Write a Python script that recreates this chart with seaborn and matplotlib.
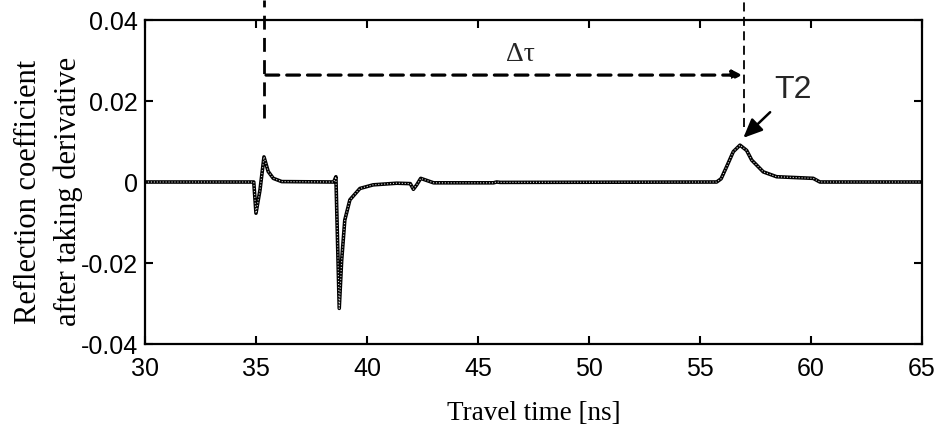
import numpy as np
import pandas as pd
import matplotlib
matplotlib.use("Agg")
import matplotlib.pyplot as plt
import seaborn as sns

# valores (tiempo en ns, coeficiente de reflexion derivado)
tiempo = [30, 34.9, 35.0, 35.18, 35.36, 35.55, 35.78, 36.16, 38.5, 38.6, 38.75,
          38.86, 39.0, 39.23, 39.68, 40.28, 41.34, 41.95, 42.09, 42.24, 42.42,
          43.0, 45.7, 45.84, 46.0, 55.75, 55.95, 56.2, 56.5, 56.8, 57.1, 57.33,
          57.85, 58.45, 60.1, 60.4, 65]
reflexion = [0, 0, -0.0077, -0.002, 0.0062, 0.0026, 0.0009, 0.0001, 0, 0.0013,
             -0.0312, -0.0193, -0.0094, -0.0044, -0.0016, -0.0007, -0.0003,
             -0.0004, -0.0018, -0.0007, 0.0009, -0.0002, -0.0002, 0.0, -0.0001,
             0, 0.0008, 0.0038, 0.0075, 0.0091, 0.0078, 0.0054, 0.0025, 0.0013,
             0.0009, 0, 0]

xticks = [30, 35, 40, 45, 50, 55, 60, 65]
yticks = [-0.04, -0.02, 0, 0.02, 0.04]
ytick_labels = ["-0.04", "-0.02", "0", "0.02", "0.04"]

# marcas T1 / T2 y delta tau
t1 = 35.36
t2 = 57.0
y_flecha = 0.0264

df = pd.DataFrame({"tiempo": tiempo, "reflexion": reflexion})

sns.set_style("ticks")
plt.rcParams["font.family"] = ["Liberation Sans", "DejaVu Sans"]

fig = plt.figure(figsize=(9.42, 4.32), dpi=100)
ax = fig.add_axes([0.1539, 0.2037, 0.8249, 0.75])

sns.lineplot(data=df, x="tiempo", y="reflexion", color="black", lw=2.6, ax=ax)
sns.lineplot(data=df, x="tiempo", y="reflexion", color="#d8d8d8", lw=0.8,
             linestyle=":", ax=ax)

ax.set_xlim(30, 65)
ax.set_ylim(-0.04, 0.04)
ax.set_xticks(xticks)
ax.set_xticklabels([str(x) for x in xticks])
ax.set_yticks(yticks)
ax.set_yticklabels(ytick_labels)
ax.tick_params(direction="in", length=6, width=1.5, labelsize=18,
               top=True, right=True, color="black", labelcolor="black")
ax.tick_params(axis="x", pad=9)
ax.tick_params(axis="y", pad=5)
for s in ax.spines.values():
    s.set_linewidth(1.6)
    s.set_color("black")

# lineas verticales punteadas (salen por arriba del grafico)
ax.plot([t1, t1], [0.0158, 0.045], color="black", lw=2.0, ls=(0, (5, 3)),
        clip_on=False)
ax.plot([t2, t2], [0.0136, 0.045], color="black", lw=1.3, ls=(0, (5, 3)),
        clip_on=False)

# flecha delta tau
ax.annotate("", xy=(t2 - 0.1, y_flecha), xytext=(35.45, y_flecha),
            arrowprops=dict(arrowstyle="-|>,head_length=0.55,head_width=0.28",
                            color="black", lw=2.3, ls=(0, (4, 2.5)),
                            shrinkA=0, shrinkB=0))
ax.text(46.9, 0.0314, "\u0394\u03c4", fontsize=20, family="Liberation Serif",
        ha="center", va="center")

# etiqueta T2
ax.annotate("T2", xy=(56.95, 0.0109), xytext=(59.2, 0.0227), fontsize=23,
            ha="center", va="center",
            arrowprops=dict(arrowstyle="-|>,head_length=0.5,head_width=0.22",
                            color="black", lw=1.8, shrinkA=4, shrinkB=0))

ax.set_xlabel("Travel time [ns]", fontsize=19.5, family="Liberation Serif",
              color="black")
ax.set_ylabel("Reflection coefficient\nafter taking derivative", fontsize=22,
              family="Liberation Serif", color="black", linespacing=1.45)
ax.xaxis.set_label_coords(0.5, -0.175)
ax.yaxis.set_label_coords(-0.08, 0.47)

fig.savefig("out.png", dpi=100)
